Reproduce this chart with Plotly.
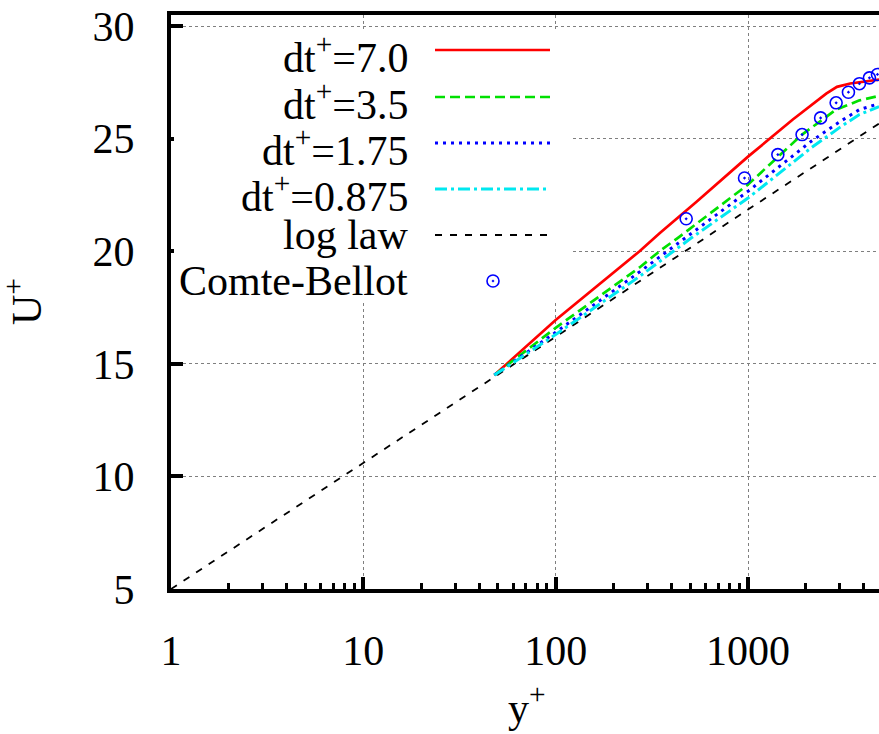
import plotly.graph_objects as go

# ---------------- data ----------------
yp_red = [48, 100, 273, 347, 540, 1000, 1710, 2550, 2900, 3400, 4800]
u_red = [14.5, 16.95, 20.0, 20.8, 22.2, 24.2, 25.85, 27.0, 27.3, 27.45, 27.62]

yp_green = [48, 100, 273, 347, 441, 1000, 1910, 2872, 3800, 4800]
u_green = [14.5, 16.6, 19.28, 20.0, 20.65, 22.96, 25.18, 26.29, 26.7, 26.9]

yp_blue = [48, 100, 268, 500, 1000, 2130, 3000, 3795, 4800]
u_blue = [14.5, 16.4, 19.03, 20.75, 22.66, 24.88, 25.75, 26.29, 26.55]

yp_cyan = [48, 100, 273, 500, 1000, 2130, 3000, 3795, 4800]
u_cyan = [14.5, 16.3, 18.88, 20.55, 22.36, 24.59, 25.5, 26.07, 26.42]

yp_log = [1, 10, 100, 1000, 4800]
u_log = [5.0, 10.6, 16.2, 21.85, 25.67]

yp_cb = [477, 959, 1429, 1910, 2385, 2872, 3327, 3795, 4278, 4710]
u_cb = [21.44, 23.25, 24.29, 25.18, 25.92, 26.59, 27.06, 27.44, 27.70, 27.85]

legend_labels = ["dt<sup>+</sup>=7.0", "dt<sup>+</sup>=3.5", "dt<sup>+</sup>=1.75",
                 "dt<sup>+</sup>=0.875", "log law", "Comte-Bellot"]

x_tickvals = [1, 10, 100, 1000]
x_ticktext = ["1", "10", "100", "1000"]
y_tickvals = [5, 10, 15, 20, 25, 30]

# ---------------- styles ----------------
FONT = "'Liberation Serif', 'Times New Roman', Times, 'DejaVu Serif', serif"
styles = [
    dict(color="#ff0000", width=2.7, dash="solid"),
    dict(color="#00e000", width=2.7, dash="10px,5px"),
    dict(color="#0000ff", width=3, dash="3px,5px"),
    dict(color="#00e8f0", width=3, dash="12px,4px,3px,4px"),
    dict(color="#000000", width=1.8, dash="7px,8px"),
]

fig = go.Figure()
series = [(yp_red, u_red), (yp_green, u_green), (yp_blue, u_blue),
          (yp_cyan, u_cyan), (yp_log, u_log)]
order = [4, 0, 1, 2, 3]
for i in order:
    xs, ys = series[i]
    fig.add_trace(go.Scatter(x=xs, y=ys, mode="lines", line=styles[i],
                             showlegend=False, hoverinfo="skip"))
fig.add_trace(go.Scatter(x=yp_cb, y=u_cb, mode="markers",
                         marker=dict(symbol="circle-open-dot", size=12, color="#0000ff",
                                     line=dict(width=1.6, color="#0000ff")),
                         showlegend=False, hoverinfo="skip"))

W, H = 879, 734
L, R, T, B = 171, 0, 15, 145
pw, ph = W - L - R, H - T - B


def px2paper(px, py):
    return (px - L) / pw, 1 - (py - T) / ph


shapes = []
annotations = []
# opaque legend box (no border)
bx0, by0 = px2paper(174, 301)
bx1, by1 = px2paper(573, 29)
shapes.append(dict(type="rect", xref="paper", yref="paper", x0=bx0, x1=bx1, y0=by0, y1=by1,
                   fillcolor="white", line=dict(width=0), layer="above"))

row_y = [50, 97, 143, 189, 235, 281]
for k, lab in enumerate(legend_labels):
    tx, ty = px2paper(410, row_y[k] + (4 if k < 4 else 0))
    annotations.append(dict(xref="paper", yref="paper", x=tx, y=ty, xanchor="right",
                            yanchor="middle", text=lab, showarrow=False,
                            font=dict(family=FONT, size=42, color="black")))
    if k < 5:
        sx0, sy = px2paper(435, row_y[k])
        sx1, _ = px2paper(550, row_y[k])
        st = styles[k]
        shapes.append(dict(type="line", xref="paper", yref="paper", x0=sx0, x1=sx1, y0=sy, y1=sy,
                           line=dict(color=st["color"], width=st["width"], dash=st["dash"]),
                           layer="above"))
    else:
        cx0, cy0 = px2paper(487, row_y[k] + 6)
        cx1, cy1 = px2paper(499, row_y[k] - 6)
        shapes.append(dict(type="circle", xref="paper", yref="paper", x0=cx0, x1=cx1, y0=cy0, y1=cy1,
                           line=dict(color="#0000ff", width=1.6), layer="above"))
        dx0, dy0 = px2paper(492, row_y[k] + 1)
        dx1, dy1 = px2paper(494, row_y[k] - 1)
        shapes.append(dict(type="circle", xref="paper", yref="paper", x0=dx0, x1=dx1, y0=dy0, y1=dy1,
                           fillcolor="#0000ff", line=dict(color="#0000ff", width=0.5), layer="above"))

# axis titles
ax, ay = (527 - L) / pw, 1 - (704 - T) / ph
annotations.append(dict(xref="paper", yref="paper", x=ax, y=ay, xanchor="center", yanchor="middle",
                        text="y<sup>+</sup>", showarrow=False,
                        font=dict(family=FONT, size=42, color="black")))
annotations.append(dict(xref="paper", yref="paper", x=(23 - L) / pw, y=1 - (302 - T) / ph,
                        xanchor="center", yanchor="middle", textangle=-90,
                        text="U<sup>+</sup>", showarrow=False,
                        font=dict(family=FONT, size=42, color="black")))

fig.update_layout(width=W, height=H, margin=dict(l=L, r=R, t=T, b=B, pad=0, autoexpand=False),
                  plot_bgcolor="white", paper_bgcolor="white", showlegend=False,
                  shapes=shapes, annotations=annotations)

minor_vals = [m * 10 ** d for d in range(4) for m in range(2, 10)]
fig.update_xaxes(type="log", range=[0, 3.681], tickvals=x_tickvals, ticktext=x_ticktext,
                 ticks="inside", ticklen=12, tickwidth=3.5, tickcolor="black",
                 minor=dict(tickvals=minor_vals, ticks="inside", ticklen=6, tickwidth=3,
                            tickcolor="black", showgrid=False),
                 showline=True, linewidth=4, linecolor="black", mirror=True,
                 showgrid=True, gridcolor="#7f7f7f", griddash="dot", gridwidth=1,
                 zeroline=False, automargin=False,
                 tickfont=dict(family=FONT, size=42, color="black"), ticklabelstandoff=22)
fig.update_yaxes(range=[5, 30.49], tickvals=y_tickvals, ticks="inside", ticklen=12,
                 tickwidth=3.5, tickcolor="black", showline=True, linewidth=4, linecolor="black",
                 showgrid=True, gridcolor="#7f7f7f", griddash="dot", gridwidth=1, zeroline=False,
                 automargin=False,
                 tickfont=dict(family=FONT, size=42, color="black"), ticklabelstandoff=24)

fig.write_html("out.html", config={"displayModeBar": False},
               post_script="document.body.style.margin='0';document.body.style.padding='0';"
                           "document.documentElement.style.overflow='hidden';")
